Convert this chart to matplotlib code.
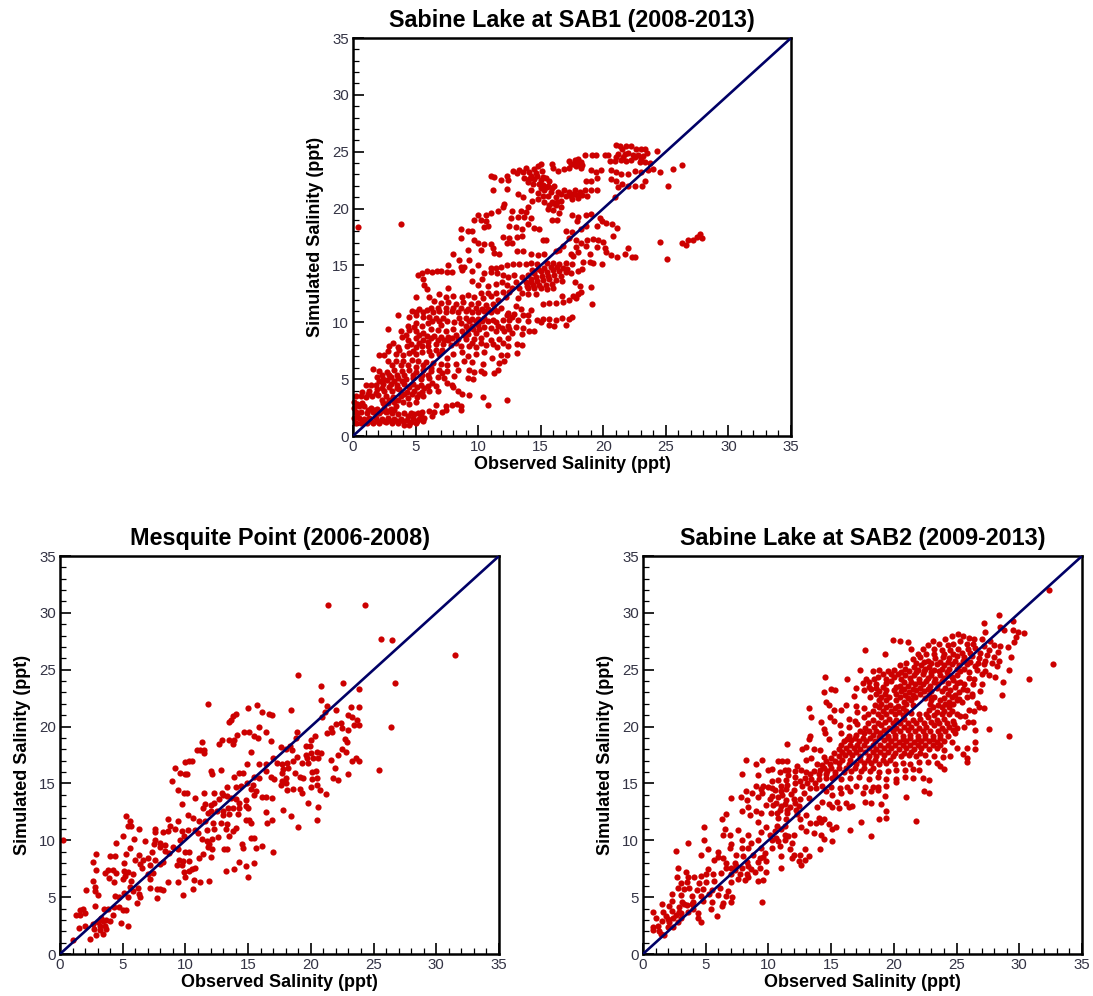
import matplotlib
matplotlib.use('Agg')
import matplotlib.pyplot as plt

RED = '#CC0000'
NAVY = '#000066'

SAB1_POINTS = [
    (21.0,25.6),(21.3,25.5),(21.8,25.5),(22.2,25.5),(21.5,25.2),(22.6,25.2),(23.0,25.2),(23.3,25.2),(24.3,25.1),
    (18.5,24.7),(19.1,24.7),(19.4,24.7),(20.1,24.7),(20.4,24.7),(21.2,24.8),(21.7,24.8),(22.0,24.9),(22.4,24.7),(22.8,24.7),(23.2,24.6),(23.5,24.9),
    (17.3,24.2),(17.7,24.3),(18.0,24.4),(18.2,24.1),(20.5,24.2),(20.9,24.2),(21.4,24.3),(21.8,24.2),(22.2,24.3),(22.9,24.1),(23.3,24.1),(23.7,24.0),(26.3,23.8),(25.6,23.5),
    (15.0,23.9),(14.8,23.7),(14.5,23.5),(13.8,23.6),(13.3,23.4),(12.8,23.3),(13.1,23.1),(13.6,23.2),(14.1,23.2),(14.6,23.1),(15.1,23.3),(15.9,23.9),(16.0,23.6),(16.4,23.3),(16.9,23.5),(17.3,23.6),(17.8,23.7),(18.2,23.6),(17.6,23.9),(18.1,23.9),(19.0,23.4),(19.4,23.2),(19.8,23.4),(20.6,23.4),(21.0,23.2),(21.4,23.0),(22.0,23.0),(22.5,23.3),(23.0,23.2),(23.6,23.4),(24.0,23.5),(24.5,23.2),(11.0,22.9),(11.3,22.8),(12.3,22.9),(12.4,22.5),
    (13.7,22.7),(14.1,22.6),(14.5,22.6),(15.0,22.5),(15.4,22.7),(15.7,22.4),(14.0,22.3),(14.4,22.2),(14.9,22.2),(15.2,22.1),(15.6,22.0),(16.1,22.0),(11.8,22.5),(19.5,22.7),(19.0,22.4),(18.6,22.4),(20.6,22.6),(21.0,22.4),(21.5,22.2),(21.2,21.9),(22.0,22.0),(22.5,22.0),(23.1,22.0),(23.3,22.4),(25.2,22.0),
    (11.2,21.6),(12.3,21.7),(14.2,21.6),(14.8,21.4),(15.3,21.6),(15.8,21.5),(16.4,21.5),(16.9,21.6),(17.3,21.5),(17.7,21.6),(18.1,21.5),(18.5,21.6),(19.0,21.6),(19.5,21.6),(13.2,21.3),(13.6,21.0),(15.2,21.1),(15.6,21.1),(16.2,21.0),(17.0,21.1),(17.4,21.1),(17.9,21.2),(18.3,21.2),(18.7,21.1),(17.5,20.8),(16.6,20.7),(14.3,20.7),(14.8,20.8),(15.3,20.6),(15.9,20.6),(20.9,21.0),
    (12.1,20.4),(12.0,20.1),(11.6,19.8),(15.7,20.3),(16.2,20.3),(16.6,20.1),(14.0,20.1),(15.6,20.0),(16.0,19.9),(16.5,19.6),(12.7,19.8),(13.4,19.8),(13.8,19.7),(11.0,19.6),(10.0,19.4),(10.6,19.4),(9.7,19.0),(10.2,19.0),(10.6,18.9),(12.6,19.2),(13.2,19.3),(13.7,19.3),(14.2,19.2),(15.9,19.0),(16.3,19.0),(17.5,19.4),(18.0,19.3),(18.6,19.4),(19.0,19.5),(19.7,19.2),(19.9,18.9),(17.9,18.9),
    (0.4,18.4),(3.8,18.6),(8.6,18.2),(9.2,18.0),(9.5,18.0),(10.5,18.4),(10.8,18.5),(12.5,18.5),(13.0,18.4),(14.0,18.6),(14.5,18.3),(14.9,18.2),(13.5,18.2),(17.0,18.0),(17.5,17.9),(18.2,18.2),(18.6,18.5),(19.5,18.5),(20.2,18.7),(20.7,18.6),(21.1,18.3),(20.8,17.6),(27.7,17.8),(27.5,17.5),(27.9,17.4),(27.2,17.2),(26.8,17.2),(26.3,17.0),(26.6,16.8),
    (8.6,17.4),(9.7,17.2),(10.0,17.0),(10.5,16.9),(11.0,16.9),(12.0,17.5),(12.5,17.4),(13.1,17.5),(13.5,17.6),(12.3,17.0),(12.7,17.0),(15.2,17.2),(15.4,17.2),(17.3,17.4),(17.8,17.2),(18.2,17.0),(18.7,17.2),(19.2,17.3),(19.6,17.2),(20.0,17.1),(24.5,17.1),(16.8,16.7),(17.8,16.6),(18.6,16.7),(19.5,16.6),(20.1,16.5),
    (8.0,16.0),(9.2,16.4),(10.2,16.4),(11.2,16.5),(11.3,16.1),(11.7,16.0),(13.1,16.3),(13.6,16.3),(14.2,16.0),(14.8,15.9),(15.3,16.0),(16.2,16.3),(16.5,16.4),(17.4,16.0),(18.0,16.2),(17.6,15.8),(18.9,16.0),(20.2,16.2),(20.6,15.9),(21.1,15.7),(22.0,16.5),(21.7,16.0),(22.3,15.7),(22.5,15.7),(25.1,15.6),(8.5,15.5),(9.3,15.5),
    (7.6,15.0),(8.6,14.9),(8.9,14.9),(10.0,15.0),(11.0,14.8),(11.4,14.8),(11.8,14.9),(12.3,15.0),(12.8,15.1),(13.3,15.1),(13.8,15.1),(14.2,15.2),(14.7,15.1),(15.5,15.2),(16.0,15.2),(16.5,15.1),(17.0,15.2),(17.5,15.1),(18.4,15.3),(18.9,15.3),(19.2,15.2),(19.9,15.1),
    (5.2,14.2),(5.5,14.3),(5.9,14.5),(6.3,14.4),(6.7,14.5),(7.0,14.5),(7.5,14.4),(7.9,14.4),(8.7,14.6),(9.5,14.5),(10.5,14.3),(11.0,14.4),(11.5,14.3),(12.0,14.2),(12.4,14.0),(12.9,14.2),(13.5,14.0),(14.0,14.2),(14.5,14.3),(15.0,14.5),(15.5,14.4),(16.0,14.6),(16.5,14.5),(17.0,14.4),(17.4,14.3),(18.0,14.5),(18.3,14.7),
    (5.6,13.8),(5.7,13.3),(5.9,12.9),(7.6,13.0),(9.5,13.6),(10.3,13.8),(10.0,13.3),(10.8,13.2),(11.4,13.4),(11.9,13.5),(12.3,13.3),(12.7,13.0),(13.3,13.0),(13.8,13.5),(14.2,13.5),(14.7,13.6),(15.2,13.7),(15.7,13.8),(16.2,13.7),(16.7,13.6),(17.7,13.5),(18.1,13.2),(14.0,13.0),(14.5,13.0),(15.0,13.0),(15.5,12.9),(16.0,13.0),(19.0,13.1),(13.5,12.6),(14.0,12.5),(14.6,12.5),
    (6.1,12.2),(6.9,12.5),(7.4,12.2),(8.0,12.3),(8.7,12.2),(9.2,12.4),(9.7,12.2),(10.4,12.1),(11.0,12.3),(11.6,12.0),(12.2,12.2),(13.2,12.1),(17.6,12.3),(18.0,12.5),(18.2,12.7),(16.7,12.3),(5.0,12.2),(6.5,11.9),(7.0,11.7),(7.6,11.8),(8.2,11.6),(8.8,11.8),(9.4,11.6),(10.0,11.7),(10.6,11.5),(11.2,11.6),(11.8,11.3),(13.0,11.4),(13.4,11.2),(14.2,11.1),(15.2,11.6),(15.7,11.7),(16.2,11.7),(16.8,11.8),(17.3,12.0),(17.8,12.1),(19.1,11.6),
    (4.7,11.0),(5.3,11.2),(5.9,11.1),(6.4,10.9),(6.9,11.0),(7.4,10.9),(7.9,11.0),(8.4,10.9),(9.0,11.0),(9.5,10.9),(10.0,10.9),(10.5,11.0),(11.0,10.9),(11.5,11.0),(12.4,10.8),(12.9,10.7),(13.6,10.6),(14.0,10.6),(3.6,10.6),(4.5,10.5),(5.0,10.6),(5.6,10.5),(6.1,10.5),(6.6,10.4),(7.2,10.4),(8.5,10.4),(9.0,10.4),(9.5,10.3),(10.0,10.3),(10.5,10.4),(11.2,10.2),(12.0,10.2),(12.5,10.2),(14.7,10.2),(15.2,10.3),(15.7,10.3),(16.2,10.2),(16.7,10.4),(17.3,10.3),(17.5,10.5),(14.0,10.1),(15.0,10.0),
    (5.0,9.9),(5.5,9.7),(6.0,9.9),(7.0,9.8),(8.6,9.9),(9.0,9.7),(9.5,9.7),(10.0,9.8),(10.5,9.6),(11.6,9.7),(12.4,9.7),(13.0,9.6),(13.6,9.5),(15.7,9.8),(16.1,9.7),(17.0,9.8),(2.8,9.4),(3.8,9.2),(4.5,9.3),(5.0,9.2),(5.6,9.1),(6.2,9.4),(6.8,9.3),(7.4,9.2),(8.0,9.4),(8.7,9.2),(9.2,9.0),(9.8,9.1),(10.6,9.0),(11.4,9.2),(12.1,9.2),(12.7,9.1),(13.5,9.0),(14.1,9.2),(14.5,9.2),
    (3.9,8.7),(4.4,8.4),(5.0,8.6),(5.6,8.4),(6.2,8.6),(6.8,8.4),(7.3,8.4),(7.9,8.6),(8.4,8.5),(9.0,8.5),(9.7,8.5),(10.2,8.6),(11.0,8.4),(11.7,8.5),(12.4,8.6),(3.2,8.2),(2.9,7.9),(3.6,7.8),(4.3,7.9),(5.0,7.8),(5.5,7.9),(6.0,7.9),(6.6,8.1),(7.2,8.1),(7.8,8.0),(8.6,7.9),(9.3,7.9),(9.8,7.8),(10.6,8.0),(11.5,7.8),(12.4,7.9),(13.1,8.1),(13.5,8.0),
    (2.8,7.5),(3.7,7.6),(4.5,7.3),(5.0,7.2),(5.5,7.4),(6.2,7.1),(6.9,7.2),(7.5,6.9),(8.0,7.2),(8.7,7.4),(9.2,7.0),(9.8,7.2),(10.5,7.4),(11.1,6.9),(11.8,7.1),(12.3,7.1),(13.1,7.3),(2.1,7.1),(2.5,7.1),(2.8,6.6),(3.4,6.6),(4.0,6.6),(4.7,6.7),(5.2,6.6),(5.8,6.5),(6.4,6.4),(7.0,6.3),(7.5,6.2),(8.2,6.3),(8.9,6.6),(9.5,6.5),(10.4,6.3),(11.7,6.4),(12.1,6.6),
    (1.6,5.9),(2.1,5.7),(2.7,5.6),(3.3,5.8),(3.9,5.7),(4.5,5.8),(5.0,5.6),(5.6,5.8),(6.2,5.7),(6.9,5.8),(7.5,5.7),(8.4,5.8),(9.3,5.8),(9.7,5.6),(10.2,5.7),(10.5,5.5),(11.3,5.5),(11.6,5.8),(1.9,5.2),(2.4,5.0),(3.0,5.2),(3.6,5.1),(4.2,5.0),(4.8,5.1),(5.4,5.0),(6.1,5.1),(6.8,5.2),(7.3,5.1),(8.1,5.3),(9.2,5.1),(9.6,5.0),
    (1.0,4.5),(1.4,4.5),(1.8,4.5),(2.4,4.6),(3.0,4.6),(3.5,4.5),(4.1,4.6),(4.8,4.6),(5.4,4.5),(6.0,4.4),(6.6,4.4),(7.5,4.7),(7.9,4.5),(8.0,4.3),(0.7,3.9),(1.3,4.0),(1.9,4.1),(2.5,4.0),(3.1,4.0),(3.7,4.1),(4.3,3.9),(4.9,4.0),(5.5,3.9),(6.1,4.0),(6.8,4.0),(8.4,4.0),(8.7,3.7),
    (0.2,3.5),(0.6,3.5),(1.0,3.4),(1.5,3.5),(2.0,3.6),(2.6,3.5),(3.2,3.4),(3.8,3.5),(4.4,3.3),(5.1,3.4),(5.6,3.5),(9.3,3.6),(10.4,3.4),(12.3,3.2),(0.1,3.0),(2.4,2.9),(2.8,2.9),(3.3,3.0),(4.0,3.0),(4.5,2.8),(5.0,3.0),(10.8,2.7),
    (0.1,2.5),(0.5,2.6),(0.9,2.6),(1.4,2.5),(1.9,2.4),(2.5,2.5),(3.0,2.4),(3.4,2.6),(6.6,2.7),(7.4,2.6),(7.9,2.7),(8.3,2.8),(8.6,2.6),(8.6,2.3),(0.2,2.1),(0.6,2.1),(1.1,2.0),(1.6,2.1),(2.1,2.0),(2.6,2.1),(3.1,2.0),(3.6,1.9),(4.1,2.0),(4.6,2.0),(5.2,2.0),(5.5,2.1),(6.1,2.2),(6.5,2.1),(7.1,2.1),(7.4,2.3),
    (0.1,1.6),(0.5,1.6),(0.9,1.5),(1.3,1.6),(1.8,1.6),(2.3,1.5),(2.8,1.6),(3.3,1.5),(3.8,1.5),(4.3,1.4),(4.8,1.6),(5.3,1.5),(5.7,1.6),(6.3,1.8),(0.2,1.1),(0.6,1.1),(1.1,1.1),(1.6,1.1),(2.1,1.1),(2.6,1.2),(3.1,1.1),(3.6,1.1),(4.1,1.0),(4.5,1.0),(5.0,1.1),(5.6,1.3),
    # second pass over the dense streaks
    (21.6,24.5),(22.5,24.5),(23.0,24.4),(21.0,24.5),(17.8,24.0),(17.4,23.9),(18.3,23.8),(14.2,22.9),(14.7,22.9),(15.2,22.8),(15.5,21.9),(15.9,21.8),(15.0,21.8),(16.6,21.3),(17.6,21.3),(18.0,20.9),(16.0,20.5),(16.3,20.6),
    (14.3,14.6),(14.8,14.7),(15.3,14.8),(15.8,14.9),(16.3,14.9),(16.8,14.8),(14.2,13.8),(14.6,14.0),(15.1,14.1),(15.6,14.1),(16.1,14.2),(16.6,14.1),(17.1,14.7),(13.9,13.2),(14.4,13.3),(14.9,13.3),(15.4,13.3),(15.9,13.4),(13.0,13.5),(12.5,12.7),(12.0,12.7),(11.4,12.6),(10.8,12.6),(10.2,12.6),
    (9.2,11.2),(9.8,11.3),(10.3,11.2),(10.8,11.2),(11.3,11.2),(8.6,11.3),(8.0,11.3),(7.4,11.3),(6.8,11.3),(6.2,11.3),(5.6,10.9),(5.0,10.9),(6.3,10.1),(6.9,10.1),(7.5,10.1),(8.1,10.0),(9.3,10.1),(9.8,10.1),(10.3,10.1),(10.8,10.1),(11.4,10.0),(12.7,10.5),(12.3,10.6),(13.2,10.2),(9.2,9.4),(9.6,9.4),(10.1,9.4),(11.0,9.5),(11.9,9.5),(12.5,9.4),(4.9,9.6),(4.4,9.7),(4.2,8.9),(5.3,8.9),(5.9,8.8),(6.5,8.8),(7.0,8.7),(7.6,8.7),(8.2,8.9),(8.9,8.9),
    (4.6,8.1),(5.3,8.2),(6.0,8.3),(7.6,8.4),(8.2,8.2),(9.5,8.2),(10.2,8.2),(11.2,8.1),(12.0,8.2),(3.4,7.2),(4.0,7.1),(4.8,7.5),(6.1,7.5),(6.6,7.6),(7.1,7.6),(3.1,6.2),(3.8,6.2),(4.4,6.2),(5.0,6.1),(5.6,6.2),(6.2,6.0),(2.3,5.4),(2.9,5.4),(3.5,5.4),(4.1,5.4),(4.8,5.4),(5.5,5.4),(6.0,5.4),(7.1,5.5),(2.1,4.8),(2.7,4.9),(3.3,4.8),(3.9,4.8),(4.5,4.3),(5.1,4.3),(5.7,4.2),(6.3,4.7),(2.3,4.2),(2.9,4.3),(3.5,4.2),(4.1,3.7),(4.7,3.7),(5.3,3.7),(1.2,3.7),(1.8,3.8),(2.3,3.2),(2.9,3.2),(3.6,3.2),(0.3,2.8),(0.7,2.9),(1.2,2.3),(1.7,2.3),(2.2,2.2),(2.8,2.2),(3.3,2.3),(0.3,1.9),(0.8,1.3),(1.4,1.3),(1.9,1.3),(2.5,1.3),(3.0,1.3),(3.5,1.3),(4.0,1.3),(4.6,1.2),(5.1,1.3),(5.4,1.8),(4.9,1.9),(4.4,1.8),
]

MESQUITE_POINTS = [
    (0.2,10.0),(21.4,30.7),(24.3,30.7),(25.6,27.7),(26.5,27.6),(31.5,26.3),(19.0,24.5),(22.6,23.8),(26.7,23.8),(20.8,23.6),(23.8,23.3),(20.8,22.3),
    (11.8,22.0),(15.0,21.6),(15.7,21.9),(18.4,21.5),(21.3,21.8),(21.1,21.3),(22.0,21.5),(23.2,21.7),(23.8,21.7),(14.0,21.1),(13.8,20.9),(13.6,20.6),(13.5,20.4),(16.1,21.3),(16.7,21.1),(16.9,21.0),
    (20.9,20.8),(23.0,21.0),(23.3,20.8),(23.7,20.6),(22.0,20.2),(22.4,20.3),(22.5,19.9),(21.6,19.9),(23.4,20.1),(23.8,20.1),(26.4,20.0),(15.9,20.0),(14.7,19.5),(15.1,19.5),(16.4,19.5),(18.9,19.5),(21.3,19.4),(21.7,19.5),(23.0,19.7),(14.1,19.3),(15.5,19.2),(15.8,19.0),(20.3,19.2),(18.8,19.0),
    (12.9,18.8),(13.5,18.8),(13.9,18.8),(13.8,18.5),(11.3,18.6),(12.7,18.5),(16.8,18.7),(20.0,18.8),(22.7,18.9),(22.9,18.6),(17.6,18.2),(18.0,18.0),(18.3,18.3),(19.6,18.3),(19.9,18.3),(10.9,17.9),(11.2,17.9),(11.5,17.9),(11.5,17.7),(15.2,17.8),(18.5,17.9),(20.5,17.8),(20.8,17.7),(22.5,18.0),(22.8,17.8),(22.2,17.5),(19.6,17.5),(20.0,17.7),(19.7,17.2),(20.2,17.2),(20.6,17.2),
    (10.0,16.9),(10.3,17.0),(10.5,17.0),(17.0,17.2),(17.3,16.8),(17.7,16.7),(18.1,16.8),(18.6,17.0),(18.9,17.3),(19.3,16.8),(19.8,16.8),(21.6,17.1),(23.3,17.0),(23.6,17.2),(23.8,17.0),(14.9,16.7),(15.9,16.7),(16.4,16.7),(9.2,16.4),(12.0,16.1),(12.8,16.2),(12.1,15.8),(9.6,15.9),(10.0,15.8),(10.1,15.8),
    (13.9,15.6),(14.3,15.9),(14.6,15.9),(15.5,15.6),(15.9,15.5),(16.4,16.1),(16.8,15.6),(17.1,15.4),(17.8,16.3),(18.2,16.4),(17.7,15.9),(18.0,15.5),(18.7,15.9),(19.1,15.6),(19.4,15.5),(20.1,16.0),(20.4,16.1),(20.1,15.4),(20.5,15.5),(21.9,16.4),(21.8,15.5),(22.2,15.3),(23.0,15.8),(25.4,16.2),
    (8.9,15.2),(17.7,15.2),(18.0,15.0),(17.6,14.9),(14.9,15.0),(15.4,14.9),(14.0,14.7),(14.4,14.8),(13.3,14.7),(12.9,14.2),(12.3,14.2),(11.5,14.2),(15.2,14.5),(15.6,14.3),(15.5,14.0),(9.4,14.4),(9.9,14.2),(10.1,14.2),(18.1,14.4),(18.6,14.5),(19.1,14.5),(19.3,14.2),(20.0,14.7),(20.5,14.9),(20.7,14.4),(21.2,14.1),
    (10.8,13.7),(11.6,13.2),(12.0,13.1),(12.3,13.3),(12.7,13.6),(13.0,14.0),(13.3,13.9),(13.6,13.7),(14.0,13.6),(14.3,13.3),(14.8,13.5),(16.1,13.8),(16.4,13.8),(16.9,13.7),(9.7,13.2),(11.4,12.8),(12.0,12.6),(12.5,12.6),(13.0,12.6),(13.4,12.8),(13.8,12.8),(14.3,12.8),(14.8,13.0),(15.0,12.8),(19.8,13.3),(20.6,12.9),(11.8,12.4),(13.0,12.2),(13.5,12.3),(14.2,12.3),(16.4,12.5),(17.8,12.7),
    (5.3,12.1),(5.6,11.7),(5.4,11.3),(5.7,11.3),(6.3,11.0),(8.6,11.9),(9.4,11.7),(10.2,12.2),(10.6,12.0),(11.1,11.7),(11.6,11.7),(12.2,11.5),(12.8,11.5),(13.3,11.4),(14.0,11.1),(14.8,11.8),(15.1,11.8),(16.5,11.5),(16.9,11.8),(18.4,12.1),(20.5,11.8),(19.0,11.2),(15.2,11.5),
    (8.8,11.3),(9.2,11.0),(7.6,11.0),(7.6,10.7),(8.2,10.7),(8.6,10.8),(9.7,10.8),(10.2,10.9),(10.8,10.9),(11.0,10.6),(11.7,10.9),(12.3,11.0),(13.2,11.0),(13.8,10.8),(13.5,10.4),(12.6,10.3),(12.1,10.1),(5.0,10.4),(7.6,10.0),(5.9,10.1),(4.5,9.8),(6.8,9.9),(7.5,9.7),(8.0,9.8),(8.4,9.6),(9.0,9.4),(9.6,10.0),(9.9,10.4),(11.3,10.1),(11.7,9.9),(11.9,9.7),(15.2,10.2),(15.5,10.2),(14.5,9.7),(16.1,9.5),
    (8.0,9.4),(8.4,9.1),(8.7,8.9),(7.3,9.0),(9.4,9.2),(10.0,9.0),(10.3,9.0),(11.8,9.4),(12.1,9.2),(13.1,9.2),(13.3,9.2),(14.6,9.3),(15.6,9.3),(17.0,9.0),(2.9,8.8),(4.0,8.6),(4.4,8.6),(5.3,8.8),(5.6,9.3),(6.3,8.7),(11.4,8.8),(6.0,8.3),(6.6,8.3),(7.0,8.4),(7.6,8.3),(8.2,8.1),(9.5,8.3),(9.8,8.2),(10.3,8.2),(11.1,8.4),(12.0,8.5),
    (2.6,8.1),(5.1,8.0),(6.4,7.9),(7.2,7.8),(6.5,7.6),(8.0,7.9),(9.3,7.8),(9.7,7.8),(10.5,7.5),(10.8,7.6),(14.3,8.1),(15.5,8.0),(2.9,7.4),(3.6,7.1),(3.8,7.4),(4.2,7.4),(4.5,7.1),(5.1,7.3),(5.4,7.2),(5.8,7.0),(7.0,7.0),(7.4,7.1),(9.9,7.2),(10.3,7.3),(13.2,7.3),(13.9,7.5),(14.8,7.7),
    (2.6,6.4),(3.9,6.7),(4.3,6.3),(5.0,6.6),(5.2,6.9),(5.7,6.4),(7.2,6.6),(8.6,6.3),(9.4,6.3),(10.0,6.8),(10.7,6.5),(11.2,6.3),(11.9,6.4),(15.0,6.8),(2.8,5.9),(2.1,5.6),(2.8,5.5),(5.1,5.4),(5.6,5.9),(6.2,5.8),(7.2,5.8),(7.7,5.7),(8.0,5.7),(8.2,5.6),(10.6,5.7),(3.0,5.2),(5.8,5.5),(6.3,5.3),(4.4,5.1),(4.7,5.0),(5.4,5.0),(6.4,5.0),(6.1,4.5),(7.7,4.9),(9.8,5.2),
    (2.8,4.2),(3.5,4.0),(3.8,4.0),(4.3,4.1),(4.7,4.1),(5.0,3.9),(5.3,3.9),(1.6,3.9),(1.8,4.0),(1.3,3.4),(1.6,3.4),(2.0,3.6),(3.3,3.2),(4.2,3.4),(3.0,2.8),(3.4,2.9),(3.7,3.0),(4.0,2.9),(4.9,2.7),(3.2,2.5),(3.6,2.5),(1.5,2.3),(2.0,2.5),(2.6,2.6),(5.4,2.5),(2.7,2.2),(3.2,2.1),(3.7,2.2),(2.9,1.7),(3.4,1.8),(2.4,1.3),(1.0,1.2),
]

SAB2_POINTS = [
    (32.4,32.0),(28.4,29.8),(27.2,29.1),(29.5,29.3),(32.7,25.5),(29.2,19.2),(30.8,24.2),
    (28.5,28.8),(28.8,28.5),(29.5,28.5),(29.9,28.3),(30.4,28.2),(29.7,27.9),(27.3,28.3),(26.0,27.8),(25.5,28.0),(25.1,28.1),(24.6,28.0),(24.1,27.7),(23.6,27.3),(23.1,27.5),(26.4,27.7),(25.8,27.3),(25.3,27.5),(24.7,27.3),(19.9,27.6),(20.5,27.5),(21.1,27.4),(17.7,26.7),(21.4,26.8),(22.3,26.8),(23.2,26.8),(23.8,26.7),(24.5,26.7),(25.1,26.8),(25.9,26.8),(26.5,26.9),(27.2,27.1),(28.0,27.2),(28.5,27.1),(29.1,27.0),(29.6,27.4),(19.3,26.4),
    (21.5,25.9),(22.1,26.1),(22.7,25.8),(23.3,26.0),(23.9,26.1),(24.4,26.0),(25.0,26.2),(25.6,26.1),(26.2,26.2),(26.8,26.0),(27.4,26.3),(28.0,26.1),(29.3,26.1),(20.5,25.4),(21.0,25.6),(21.6,25.2),(22.2,25.4),(22.8,25.2),(23.4,25.5),(24.0,25.4),(24.6,25.5),(25.2,25.4),(25.8,25.5),(26.5,25.3),(27.2,25.5),(27.8,25.6),(28.2,25.3),(29.2,25.0),
    (17.3,25.0),(18.3,24.9),(18.8,25.0),(19.5,24.9),(20.0,25.0),(20.6,24.8),(21.2,24.9),(21.8,24.8),(22.4,24.9),(23.0,24.8),(23.6,24.9),(24.2,24.8),(25.3,24.9),(26.0,24.8),(26.6,25.0),(27.3,24.9),(27.6,24.5),(28.1,24.4),(14.5,24.4),(16.3,24.2),(18.7,24.4),(20.0,24.4),(20.6,24.2),(21.3,24.3),(22.0,24.2),(22.7,24.3),(23.3,24.2),(24.0,24.3),(24.6,24.4),(26.0,24.3),(26.4,24.2),
    (17.5,23.8),(18.0,23.9),(18.6,23.7),(19.4,23.8),(20.5,23.6),(21.1,23.6),(21.7,23.7),(22.3,23.7),(22.9,23.6),(23.5,23.7),(24.3,23.8),(25.0,23.8),(25.6,23.7),(27.0,23.7),(28.7,23.9),(15.0,23.3),(15.3,23.2),(17.0,23.4),(17.6,23.2),(18.2,23.3),(18.8,23.1),(19.4,23.2),(20.0,23.2),(20.6,23.1),(21.2,23.0),(21.8,23.2),(22.4,23.1),(23.0,23.1),(23.8,23.1),(24.5,23.2),(25.2,23.0),(26.9,23.1),
    (14.4,23.0),(16.8,22.7),(18.1,22.6),(19.0,22.6),(19.6,22.6),(20.5,22.6),(21.1,22.5),(21.7,22.6),(22.5,22.5),(23.2,22.6),(24.0,22.5),(24.6,22.6),(25.2,22.4),(25.8,22.6),(26.2,22.7),(28.6,22.8),(14.6,22.2),(14.8,21.9),(16.2,21.9),(17.0,21.8),(18.5,21.9),(19.0,22.0),(19.7,21.9),(20.3,21.8),(21.0,22.0),(21.5,21.9),(22.9,22.0),(23.5,21.9),(24.1,22.0),(24.7,22.0),(25.4,22.2),(26.6,22.1),(26.8,21.7),
    (15.2,21.5),(15.8,21.5),(13.2,21.6),(17.1,21.3),(18.3,21.4),(19.1,21.4),(19.8,21.4),(20.4,21.3),(21.0,21.4),(22.8,21.5),(23.4,21.3),(24.0,21.4),(24.6,21.4),(26.0,21.5),(26.4,21.4),(27.2,21.6),(13.4,20.8),(14.9,20.8),(15.2,20.5),(16.4,20.7),(16.9,20.5),(17.6,20.8),(18.3,20.6),(19.0,20.8),(19.6,20.7),(20.2,20.6),(20.8,20.7),(21.5,20.6),(22.1,20.7),(22.7,20.8),(23.4,20.6),(24.0,20.7),(24.7,20.5),(25.3,20.9),(25.9,20.4),(26.3,20.4),
    (14.2,20.4),(14.4,19.8),(15.7,20.1),(16.4,20.0),(17.7,19.9),(18.4,20.0),(19.0,20.1),(19.6,19.9),(20.2,19.9),(20.8,20.0),(21.4,20.0),(22.0,19.9),(22.6,20.0),(23.2,20.1),(23.8,19.9),(24.4,20.0),(25.0,19.9),(25.6,20.0),(27.6,19.8),(14.5,19.4),(15.8,19.4),(16.4,19.2),(17.0,19.3),(17.6,19.4),(18.3,19.3),(18.9,19.4),(19.5,19.2),(20.1,19.3),(20.7,19.2),(21.3,19.3),(21.9,19.2),(22.5,19.3),(23.1,19.2),(23.7,19.3),(24.3,19.2),(24.9,19.4),(26.5,19.7),(13.3,19.2),(13.2,18.9),
    (14.8,18.9),(16.0,18.7),(16.6,18.8),(17.2,18.7),(17.8,18.7),(18.5,18.7),(19.2,18.8),(19.8,18.7),(20.4,18.6),(21.0,18.7),(21.6,18.6),(22.2,18.7),(22.8,18.7),(23.4,18.6),(24.0,18.7),(24.6,18.6),(26.5,18.6),(11.5,18.5),(12.7,18.0),(13.0,18.2),(13.6,18.0),(14.1,17.9),(15.6,18.0),(16.2,18.1),(16.8,18.1),(17.3,18.0),(18.0,18.1),(18.6,18.0),(19.2,18.1),(19.8,18.1),(20.4,18.0),(21.0,18.1),(21.6,18.0),(22.2,18.1),(22.8,18.0),(23.4,18.1),(24.0,17.9),(25.0,18.1),(25.8,18.1),(26.5,18.0),(25.5,17.6),
    (8.2,17.1),(9.5,17.1),(10.8,17.0),(11.1,17.0),(11.5,17.0),(13.0,17.1),(13.4,17.2),(14.4,17.3),(15.0,17.2),(15.6,17.4),(16.1,17.5),(16.7,17.5),(17.3,17.4),(18.0,17.4),(18.6,17.4),(19.2,17.5),(19.9,17.4),(20.6,17.4),(21.2,17.5),(21.8,17.4),(22.5,17.5),(23.2,17.4),(23.9,17.3),(24.5,17.4),(25.8,17.2),(9.0,16.7),(13.9,16.7),(14.3,16.6),(14.9,16.7),(15.6,16.8),(16.4,16.7),(17.0,16.7),(17.6,16.8),(18.2,16.8),(18.8,16.7),(19.4,16.8),(20.1,16.7),(20.7,16.8),(21.3,16.7),(22.0,16.9),(22.7,16.9),(23.4,16.8),(23.7,16.5),(25.8,16.9),
    (10.0,16.2),(10.3,16.3),(10.9,16.0),(11.3,16.2),(12.3,16.5),(12.6,16.2),(13.0,16.0),(13.6,16.1),(14.1,16.2),(14.7,16.1),(15.3,16.0),(16.0,16.0),(16.6,16.1),(17.4,16.1),(18.1,16.1),(18.8,16.0),(19.5,16.1),(20.2,16.2),(20.9,16.2),(21.5,16.3),(22.0,16.2),(24.0,16.3),(7.9,15.8),(9.2,15.7),(11.6,15.7),(12.1,15.6),(12.9,15.5),(13.4,15.4),(14.0,15.4),(14.6,15.5),(15.1,15.5),(15.8,15.4),(16.5,15.5),(17.2,15.6),(18.0,15.4),(18.7,15.6),(19.4,15.4),(20.2,15.4),(20.9,15.6),(21.5,15.5),(22.3,15.5),(22.8,15.3),
    (9.0,14.8),(9.6,14.8),(10.0,14.7),(11.0,14.8),(11.5,14.9),(12.1,15.0),(12.7,14.8),(13.3,14.6),(13.8,14.6),(14.3,14.8),(15.0,14.7),(15.7,14.6),(16.3,14.7),(17.0,14.8),(17.7,14.7),(18.3,14.7),(18.7,14.7),(19.4,14.8),(20.2,15.1),(8.2,14.3),(8.7,14.2),(9.5,14.2),(10.5,14.4),(11.0,14.3),(12.8,14.2),(14.6,14.3),(15.1,14.0),(15.8,14.2),(16.5,14.3),(17.5,14.2),(18.2,14.3),(18.7,14.4),(19.3,13.9),(22.4,14.3),(22.8,14.2),(21.0,13.8),
    (7.0,13.7),(7.8,13.8),(8.3,13.5),(9.2,13.8),(10.1,13.6),(10.8,13.8),(11.4,13.5),(12.0,13.6),(12.5,13.6),(13.2,13.7),(14.3,13.4),(14.8,13.2),(15.5,13.4),(16.2,13.3),(17.7,13.4),(18.2,13.3),(8.4,12.9),(9.8,13.1),(10.4,13.1),(11.0,13.0),(11.7,12.9),(12.4,13.0),(13.9,12.9),(15.1,12.9),(15.6,12.8),(16.4,12.9),(16.7,13.0),(19.0,13.2),(7.9,12.6),(9.0,12.6),(10.2,12.4),(10.7,12.4),(11.5,12.4),(12.3,12.3),(13.0,12.2),(19.4,12.6),
    (6.3,11.9),(6.6,12.3),(8.5,12.2),(9.4,12.4),(10.8,12.0),(11.4,11.9),(12.5,11.9),(13.3,11.5),(14.0,12.0),(14.4,11.9),(18.8,11.9),(19.4,12.0),(17.4,11.6),(21.8,11.7),(4.9,11.2),(6.5,11.0),(9.2,11.6),(9.8,11.2),(10.7,11.3),(11.3,11.3),(12.6,11.2),(13.8,11.5),(14.2,11.6),(14.8,11.4),(15.1,11.0),(15.4,11.2),(16.5,10.9),(7.6,10.9),(6.4,10.5),(6.9,10.5),(8.4,10.5),(9.4,10.7),(10.1,10.5),(11.3,10.5),(12.0,10.5),(13.0,10.8),(13.6,10.6),(14.2,10.5),(14.4,10.1),(18.2,10.4),
    (4.9,10.0),(3.6,9.8),(7.0,9.7),(7.9,10.0),(8.6,9.8),(9.2,10.0),(10.3,10.0),(10.8,9.9),(11.3,10.0),(11.9,9.8),(15.1,9.9),(2.6,9.1),(5.2,9.2),(6.0,9.0),(6.9,9.3),(7.9,9.3),(8.4,9.3),(9.4,9.3),(10.3,9.3),(10.9,9.5),(11.7,9.2),(12.9,9.2),(14.1,9.2),(4.6,8.7),(6.0,8.5),(6.4,8.4),(7.4,8.7),(8.0,8.6),(8.8,8.7),(9.6,8.5),(11.0,8.6),(11.9,8.4),(12.4,8.2),(12.9,8.3),(13.2,8.6),(5.7,8.3),(6.6,8.0),(7.3,8.0),(8.3,8.1),(9.2,8.1),(9.8,8.2),(12.6,7.8),
    (2.8,7.6),(5.2,7.5),(6.6,7.6),(7.3,7.4),(7.9,7.6),(8.6,7.5),(9.3,7.6),(11.0,7.6),(3.4,7.2),(3.6,6.8),(2.7,6.8),(4.1,6.8),(4.6,6.9),(5.0,7.0),(5.6,7.0),(6.2,7.1),(7.0,7.0),(7.7,7.0),(8.3,7.0),(9.8,7.2),(3.0,6.2),(3.5,6.3),(4.5,6.2),(5.0,6.3),(5.7,6.4),(7.0,6.3),(8.1,6.5),(9.2,6.4),(9.6,6.5),
    (2.8,5.8),(3.3,5.7),(3.7,5.8),(4.3,5.6),(4.8,5.7),(5.5,5.6),(6.1,5.8),(6.8,5.5),(2.3,5.3),(3.0,5.2),(3.9,5.1),(4.6,5.1),(5.3,5.3),(6.0,5.2),(6.6,5.1),(7.1,5.0),(2.3,4.7),(3.1,4.6),(4.0,4.6),(4.8,4.7),(5.5,4.6),(6.4,4.5),(7.0,4.6),(9.5,4.6),(1.5,4.4),(2.1,4.2),(2.9,4.1),(3.5,4.3),(4.0,4.0),(5.4,4.0),(6.3,4.2),
    (0.8,3.7),(1.6,3.7),(2.3,3.8),(2.9,3.7),(3.6,3.7),(4.4,3.6),(1.0,3.2),(1.8,3.3),(2.4,3.2),(3.0,3.2),(4.4,3.2),(5.9,3.3),(1.5,2.9),(2.1,2.8),(2.8,2.8),(4.6,2.8),(0.8,2.4),(1.2,2.5),(2.0,2.4),(2.4,2.4),(0.8,2.1),(1.3,2.0),(1.4,1.8),(1.7,1.7),
    # second pass over the dense core
    (21.8,25.6),(22.4,25.7),(23.0,25.6),(23.7,25.7),(24.3,25.7),(24.9,25.8),(25.5,25.8),(26.1,25.7),(26.7,25.6),(20.9,25.1),(21.9,25.0),(22.5,25.1),(23.2,25.0),(23.8,25.1),(24.4,25.1),(25.0,25.1),(25.6,25.1),(19.1,24.6),(19.8,24.6),(20.3,24.6),(20.9,24.5),(21.6,24.5),(22.3,24.6),(23.0,24.5),(23.7,24.5),(24.3,24.5),(25.0,24.5),(27.0,24.6),(17.8,24.2),(18.4,24.2),(19.4,24.2),(19.8,24.0),(20.8,23.9),(21.4,23.9),(22.0,23.9),(22.6,24.0),(23.2,23.9),(23.8,24.0),(24.7,24.1),(18.0,23.5),(18.6,23.4),(19.1,23.5),(20.2,23.5),(20.8,23.3),(21.5,23.3),(22.1,23.4),(22.7,23.3),(23.4,23.4),(24.1,23.4),(24.9,23.5),(25.5,23.3),
    (18.6,22.9),(19.3,22.9),(20.2,22.9),(20.9,22.8),(21.5,22.8),(22.1,22.9),(22.8,22.8),(24.3,22.9),(24.9,22.8),(18.8,22.3),(19.4,22.3),(20.2,22.3),(20.8,22.2),(21.4,22.3),(23.0,22.3),(23.7,22.3),(24.4,22.2),(25.0,22.3),(17.6,21.6),(18.8,21.7),(19.4,21.7),(20.1,21.6),(20.7,21.6),(23.1,21.7),(23.8,21.7),(24.4,21.7),(17.9,21.1),(18.7,21.1),(19.4,21.1),(20.1,21.1),(20.7,21.0),(21.4,21.2),(22.0,21.1),(22.6,21.1),(23.2,21.0),(23.8,21.1),(24.4,21.1),(25.0,21.1),(25.7,20.9),
    (17.1,20.2),(17.9,20.3),(18.7,20.3),(19.3,20.4),(19.9,20.3),(20.5,20.3),(21.1,20.3),(21.8,20.3),(22.4,20.3),(23.0,20.4),(23.6,20.3),(24.2,20.3),(24.8,20.2),(17.3,19.6),(18.0,19.6),(18.6,19.6),(19.2,19.7),(19.9,19.6),(20.5,19.6),(21.1,19.7),(21.7,19.6),(22.3,19.6),(22.9,19.6),(23.5,19.6),(24.1,19.6),(24.7,19.7),(16.3,18.9),(16.9,19.0),(17.5,19.0),(18.1,19.0),(18.8,19.1),(19.5,19.0),(20.1,19.0),(20.7,18.9),(21.3,19.0),(21.9,18.9),(22.5,19.0),(23.1,18.9),(23.7,19.0),(15.8,18.4),(16.5,18.4),(17.1,18.4),(17.6,18.4),(18.3,18.4),(18.9,18.4),(19.5,18.4),(20.1,18.4),(20.7,18.4),(21.3,18.4),(21.9,18.4),(22.5,18.4),(23.1,18.4),(23.7,18.4),
    (15.2,17.7),(15.9,17.8),(16.4,17.8),(17.0,17.8),(17.7,17.8),(18.3,17.8),(18.9,17.8),(19.5,17.8),(20.1,17.7),(20.8,17.7),(21.4,17.8),(22.1,17.7),(14.6,17.0),(15.3,17.0),(15.9,17.1),(16.5,17.1),(17.3,17.1),(17.9,17.1),(18.5,17.1),(19.1,17.1),(19.7,17.1),(14.4,16.4),(15.0,16.4),(15.6,16.4),(16.2,16.4),(16.9,16.4),(17.6,16.4),(18.3,16.4),(11.6,16.2),(12.1,16.1),(13.3,15.8),(14.0,15.8),(14.6,15.8),(15.3,15.7),(10.3,15.2),(10.8,15.3),(11.4,15.3),(12.5,15.2),(13.1,15.0),(13.7,15.0),(9.4,14.5),(10.3,14.6),(11.4,14.5),(12.0,14.4),(10.3,13.9),(11.1,14.0),(11.8,14.1),(10.6,13.3),(11.3,13.2),(12.1,13.3),(10.9,12.7),(11.5,12.7),(12.2,12.7),(10.5,10.8),(11.0,11.0),(10.6,10.2),(11.6,10.4),(9.3,8.4),(9.7,8.9),(12.0,8.7),(12.5,8.7),(8.4,7.7),(7.4,7.7),(7.0,7.6),(8.9,7.2),(8.4,6.8),(7.6,6.6),(3.0,3.6),(2.6,3.4),(2.0,3.1),(3.3,4.4),(3.9,4.4),
    (27.0,27.7),(27.7,27.5),(26.3,27.3),(24.3,27.2),(22.7,27.2),(24.0,26.4),(24.7,26.4),(25.4,26.5),(26.1,26.5),(26.9,26.5),(27.6,26.7),(28.3,26.6),(21.9,26.4),(22.6,26.4),(23.2,26.4),(27.3,25.8),(28.4,25.8),(25.3,23.9),(26.3,23.7),(25.8,23.2),(26.2,22.9),
]

TICKS = [0, 5, 10, 15, 20, 25, 30, 35]
MINOR_TICKS = list(range(0, 36))
LIMITS = [0, 35]
LINE = [0, 35]

# pixel boxes of the three panels: left, top, right, bottom
PANELS = [
    ('Sabine Lake at SAB1 (2008-2013)', SAB1_POINTS, (353, 38, 791, 436)),
    ('Mesquite Point (2006-2008)', MESQUITE_POINTS, (60, 556, 499, 954)),
    ('Sabine Lake at SAB2 (2009-2013)', SAB2_POINTS, (643, 556, 1082, 954)),
]

W, H = 1093, 996
plt.rcParams['font.family'] = ['Liberation Sans', 'DejaVu Sans']


def draw_panel(fig, title, points, box):
    left, top, right, bottom = box
    ax = fig.add_axes([left / W, 1 - bottom / H, (right - left) / W, (bottom - top) / H])
    xs = [p[0] for p in points]
    ys = [p[1] for p in points]
    ax.scatter(xs, ys, s=20, color=RED, linewidths=0, zorder=2, clip_on=False)
    ax.plot(LINE, LINE, color=NAVY, lw=1.9, zorder=3)
    ax.set_xlim(LIMITS)
    ax.set_ylim(LIMITS)
    ax.set_xticks(TICKS)
    ax.set_yticks(TICKS)
    ax.set_xticks(MINOR_TICKS, minor=True)
    ax.set_yticks(MINOR_TICKS, minor=True)
    ax.tick_params(which='major', direction='in', length=8, width=1.2, labelsize=10.8,
                   labelcolor='#333344', pad=3)
    ax.tick_params(which='minor', direction='in', length=4.5, width=0.9)
    for spine in ax.spines.values():
        spine.set_linewidth(1.8)
    ax.set_title(title, fontsize=16.8, fontweight='bold', pad=8)
    ax.set_xlabel('Observed Salinity (ppt)', fontsize=13, fontweight='bold', labelpad=1.5)
    ax.set_ylabel('Simulated Salinity (ppt)', fontsize=13, fontweight='bold', labelpad=6)


def main():
    fig = plt.figure(figsize=(W / 100, H / 100), dpi=100)
    for title, points, box in PANELS:
        draw_panel(fig, title, points, box)
    fig.savefig('out.png', dpi=100)


if __name__ == '__main__':
    main()
